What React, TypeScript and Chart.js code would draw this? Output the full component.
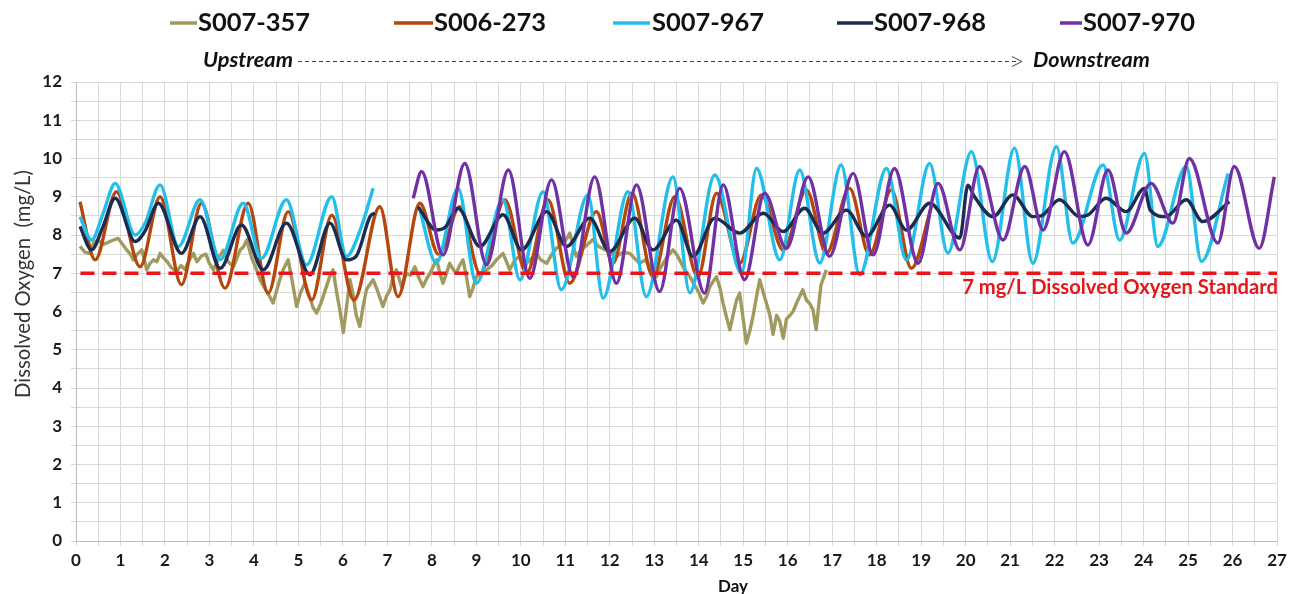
import { useEffect, useRef } from "react";
import { Chart, registerables } from "chart.js";

Chart.register(...registerables);

// Series names and colours (legend order)
const seriesNames = ["S007-357", "S006-273", "S007-967", "S007-968", "S007-970"];
const seriesColors = ["#A09A5E", "#B5460E", "#23BFEA", "#1A2C50", "#7131A5"];

// Axis ranges
const dayMin = 0;
const dayMax = 27;
const doMin = 0;
const doMax = 12;

// Dissolved-oxygen standard
const standardValue = 7;
const standardDays = [0.1, 27];
const standardLabel = "7 mg/L Dissolved Oxygen Standard";

// S007-357 (most upstream, noisy record)
const days357 = [
  0.09, 0.2, 0.3, 0.4, 0.5, 0.6, 0.69, 0.8, 0.95, 1.05, 1.14, 1.22, 1.29, 1.38, 1.48, 1.59, 1.66, 1.74, 1.82, 1.89,
  1.97, 2.05, 2.14, 2.26, 2.36, 2.45, 2.55, 2.64, 2.72, 2.82, 2.92, 3.0, 3.09, 3.2, 3.31, 3.42, 3.54, 3.62, 3.69, 3.77,
  3.84, 3.95, 4.06, 4.15, 4.25, 4.35, 4.43, 4.5, 4.58, 4.66, 4.77, 4.86, 4.96, 5.05, 5.15, 5.25, 5.33, 5.41, 5.5, 5.63,
  5.7, 5.78, 5.86, 5.93, 6.01, 6.08, 6.16, 6.22, 6.3, 6.38, 6.45, 6.53, 6.6, 6.68, 6.76, 6.9, 6.98, 7.06, 7.13, 7.2,
  7.32, 7.43, 7.52, 7.62, 7.7, 7.8, 7.88, 7.96, 8.04, 8.11, 8.18, 8.25, 8.33, 8.4, 8.48, 8.55, 8.62, 8.7, 8.78, 8.85,
  8.92, 9.0, 9.12, 9.23, 9.35, 9.45, 9.6, 9.68, 9.75, 9.87, 9.98, 10.05, 10.13, 10.25, 10.35, 10.45, 10.58, 10.7, 10.8, 10.95,
  11.03, 11.1, 11.18, 11.25, 11.35, 11.5, 11.62, 11.75, 11.92, 12.05, 12.15, 12.3, 12.45, 12.55, 12.67, 12.8, 12.95, 13.05, 13.12, 13.2,
  13.3, 13.42, 13.5, 13.57, 13.68, 13.8, 13.9, 14.0, 14.1, 14.18, 14.25, 14.33, 14.4, 14.48, 14.55, 14.62, 14.7, 14.77, 14.85, 14.92,
  15.0, 15.07, 15.15, 15.22, 15.3, 15.37, 15.45, 15.52, 15.6, 15.67, 15.75, 15.82, 15.9, 15.97, 16.05, 16.12, 16.2, 16.27, 16.34, 16.42,
  16.5, 16.57, 16.64, 16.7, 16.75, 16.79, 16.87,
];
const do357 = [
  7.7, 7.55, 7.52, 7.8, 7.87, 7.75, 7.79, 7.85, 7.91, 7.75, 7.61, 7.5, 7.35, 7.5, 7.61, 7.09, 7.25, 7.35, 7.3, 7.52,
  7.4, 7.3, 7.15, 7.04, 7.2, 7.1, 7.35, 7.52, 7.3, 7.45, 7.5, 7.25, 7.09, 7.4, 7.6, 7.3, 7.17, 7.4, 7.61, 7.7,
  7.87, 7.4, 7.09, 6.8, 6.6, 6.4, 6.22, 6.5, 6.83, 7.1, 7.35, 6.8, 6.13, 6.5, 6.75, 6.4, 6.1, 5.96, 6.2, 6.65,
  6.9, 7.09, 6.5, 6.05, 5.45, 6.1, 6.83, 6.5, 5.9, 5.61, 6.1, 6.57, 6.7, 6.83, 6.6, 6.13, 6.4, 6.57, 6.9, 7.09,
  6.65, 7.0, 6.95, 7.17, 6.9, 6.65, 6.85, 7.0, 7.2, 7.35, 7.0, 6.74, 7.0, 7.26, 7.1, 7.0, 7.2, 7.35, 6.9, 6.39,
  6.6, 6.91, 7.0, 7.09, 7.2, 7.35, 7.52, 7.3, 7.09, 7.35, 7.45, 7.2, 7.26, 7.4, 7.52, 7.35, 7.26, 7.5, 7.65, 7.79,
  7.9, 8.05, 7.7, 7.44, 7.6, 7.75, 7.88, 7.7, 7.6, 7.5, 7.44, 7.55, 7.52, 7.4, 7.26, 7.35, 7.1, 6.91, 7.1, 7.26,
  7.45, 7.61, 7.5, 7.35, 7.1, 6.91, 6.7, 6.5, 6.22, 6.4, 6.65, 6.8, 6.91, 6.6, 6.2, 5.87, 5.52, 5.9, 6.3, 6.48,
  5.8, 5.17, 5.5, 5.87, 6.4, 6.83, 6.5, 6.22, 5.9, 5.4, 5.9, 5.75, 5.3, 5.8, 5.9, 6.0, 6.22, 6.4, 6.57, 6.3,
  6.2, 6.04, 5.52, 6.2, 6.7, 6.83, 7.09,
];

// S006-273
const days273 = [
  0.09, 0.43, 0.91, 1.44, 1.89, 2.37, 2.82, 3.35, 3.87, 4.32, 4.77, 5.3, 5.75, 6.25, 6.83, 7.24, 7.73, 8.15, 8.63, 9.08,
  9.64, 10.13, 10.61, 11.1, 11.7, 12.07, 12.5, 12.97, 13.46, 13.98, 14.4, 14.92, 15.41, 15.9, 16.42, 16.87, 17.39, 17.84, 18.33, 18.78,
  19.23,
];
const do273 = [
  8.87, 7.35, 9.13, 7.17, 9.0, 6.7, 8.83, 6.61, 8.83, 6.48, 8.61, 6.3, 8.52, 6.3, 8.74, 6.39, 8.83, 7.5, 8.74, 7.0,
  8.92, 7.0, 8.92, 6.74, 8.61, 7.26, 9.1, 6.91, 9.0, 6.91, 9.09, 7.26, 9.05, 7.61, 9.18, 7.52, 9.22, 7.48, 9.18, 7.13,
  8.74,
];

// S007-967 (gap in record between day 6.7 and 7.7)
const days967 = [
  0.09, 0.35, 0.62, 0.88, 1.33, 1.55, 1.89, 2.3, 2.79, 3.24, 3.76, 4.17, 4.73, 5.18, 5.75, 6.08, 6.38, 6.68, 7.2, 7.72,
  8.1, 8.59, 9.0, 9.6, 9.98, 10.5, 10.91, 11.51, 11.85, 12.41, 12.82, 13.42, 13.8, 14.36, 14.96, 15.3, 15.82, 16.27, 16.72, 17.2,
  17.62, 18.22, 18.67, 19.19, 19.6, 20.13, 20.6, 21.1, 21.51, 22.04, 22.41, 23.09, 23.46, 24.02, 24.32, 24.96, 25.3, 25.9,
];
const do967 = [
  8.48, 7.87, 8.6, 9.35, 8.0, 8.3, 9.31, 7.7, 8.92, 7.35, 8.83, 7.39, 8.92, 7.22, 9.0, 7.44, 8.1, 9.22, null, 8.7,
  7.27, 9.22, 6.74, 8.92, 6.83, 9.13, 6.57, 9.05, 6.35, 9.13, 6.39, 9.52, 6.49, 9.57, 7.0, 9.74, 7.35, 9.7, 7.27, 9.83,
  6.96, 9.74, 7.35, 9.87, 7.53, 10.18, 7.3, 10.27, 7.26, 10.31, 7.79, 9.83, 7.87, 10.13, 7.7, 9.79, 7.31, 9.61,
];

// S007-968 (gap in record between day 6.7 and 7.7)
const days968 = [
  0.09, 0.35, 0.6, 0.88, 1.33, 1.55, 1.85, 2.37, 2.79, 3.24, 3.72, 4.21, 4.73, 5.26, 5.71, 6.08, 6.3, 6.61, 6.72, 7.2,
  7.69, 8.1, 8.3, 8.59, 9.08, 9.6, 10.02, 10.58, 11.03, 11.55, 12.0, 12.56, 12.97, 13.5, 13.87, 14.36, 14.92, 15.45, 15.9, 16.38,
  16.79, 17.32, 17.77, 18.29, 18.67, 19.19, 19.87, 20.05, 20.2, 20.62, 21.06, 21.51, 21.7, 22.11, 22.56, 22.75, 23.16, 23.61, 24.02, 24.15,
  24.5, 24.96, 25.33, 25.93,
];
const do968 = [
  8.22, 7.61, 8.2, 8.96, 7.83, 8.1, 8.83, 7.52, 8.48, 7.13, 8.26, 7.09, 8.31, 6.96, 8.31, 7.35, 7.45, 8.48, 8.57, null,
  8.74, 8.13, 8.2, 8.7, 7.7, 8.53, 7.61, 8.61, 7.7, 8.44, 7.57, 8.44, 7.61, 8.39, 7.44, 8.44, 8.05, 8.57, 8.09, 8.7,
  8.05, 8.65, 7.96, 8.78, 8.13, 8.83, 7.92, 9.3, 9.0, 8.48, 9.05, 8.48, 8.5, 8.92, 8.48, 8.52, 8.96, 8.61, 9.22, 8.65,
  8.48, 8.92, 8.35, 8.87,
];

// S007-970 (most downstream)
const days970 = [
  7.58, 7.77, 8.25, 8.74, 9.23, 9.72, 10.2, 10.69, 11.18, 11.66, 12.15, 12.6, 13.12, 13.57, 14.13, 14.55, 15.03, 15.48, 15.97, 16.46,
  16.94, 17.47, 17.92, 18.4, 18.93, 19.38, 19.87, 20.31, 20.84, 21.33, 21.74, 22.22, 22.75, 23.2, 23.61, 24.17, 24.66, 25.03, 25.67, 26.04,
  26.6, 26.94,
];
const do970 = [
  8.96, 9.66, 7.48, 9.87, 7.22, 9.7, 6.87, 9.44, 6.91, 9.52, 6.74, 9.31, 6.52, 9.22, 6.48, 9.31, 6.83, 9.09, 7.65, 9.52,
  7.44, 9.61, 7.48, 9.74, 7.26, 9.35, 7.61, 9.79, 7.87, 9.79, 8.13, 10.18, 7.74, 9.7, 8.05, 9.35, 8.31, 10.0, 7.79, 9.79,
  7.65, 9.52,
];

const seriesDays = [days357, days273, days967, days968, days970];
const seriesValues = [do357, do273, do967, do968, do970];

const FONT = "Lato, 'Open Sans', sans-serif";
const RED = "#E8161B";

function fitFont(ctx: CanvasRenderingContext2D, text: string, width: number, style: string) {
  ctx.font = `${style} 20px ${FONT}`;
  const w = ctx.measureText(text).width;
  const size = (20 * width) / w;
  ctx.font = `${style} ${size.toFixed(2)}px ${FONT}`;
}

// Legend, upstream/downstream arrow, standard label and axis titles
const overlayText = {
  id: "overlayText",
  afterDraw(chart: any) {
    const ctx: CanvasRenderingContext2D = chart.ctx;
    ctx.save();

    // legend
    const legendLines = [
      [170, 197, 198],
      [394, 433, 434],
      [613, 650, 652],
      [837, 873, 874],
      [1060, 1082, 1083],
    ];
    fitFont(ctx, seriesNames[0], 112, "bold");
    ctx.textBaseline = "middle";
    ctx.textAlign = "left";
    seriesNames.forEach((name, i) => {
      const [l0, l1, tx] = legendLines[i];
      ctx.strokeStyle = seriesColors[i];
      ctx.lineWidth = 3.5;
      ctx.setLineDash([]);
      ctx.beginPath();
      ctx.moveTo(l0, 23);
      ctx.lineTo(l1, 23);
      ctx.stroke();
      ctx.fillStyle = "#111";
      ctx.fillText(name, tx, 23);
    });

    // upstream -> downstream arrow
    ctx.fillStyle = "#111";
    fitFont(ctx, "Upstream", 90, "italic bold");
    ctx.fillText("Upstream", 203, 60);
    ctx.strokeStyle = "#444";
    ctx.lineWidth = 1;
    ctx.setLineDash([4, 3]);
    ctx.beginPath();
    ctx.moveTo(298, 61.5);
    ctx.lineTo(1018, 61.5);
    ctx.stroke();
    ctx.setLineDash([]);
    ctx.beginPath();
    ctx.moveTo(1012, 56.5);
    ctx.lineTo(1022, 61.5);
    ctx.lineTo(1012, 66.5);
    ctx.stroke();
    fitFont(ctx, "Downstream", 117, "italic bold");
    ctx.fillText("Downstream", 1033, 60);

    // standard label, just below the dashed line
    const yStd = chart.scales.y.getPixelForValue(standardValue);
    ctx.fillStyle = RED;
    fitFont(ctx, standardLabel, 316, "bold");
    ctx.textAlign = "right";
    ctx.fillText(standardLabel, 1278, yStd + 14);

    // y axis title
    ctx.fillStyle = "#333";
    fitFont(ctx, "Dissolved Oxygen  (mg/L)", 228, "normal");
    ctx.textAlign = "center";
    ctx.translate(23, 284);
    ctx.rotate(-Math.PI / 2);
    ctx.fillText("Dissolved Oxygen  (mg/L)", 0, 0);
    ctx.setTransform(1, 0, 0, 1, 0, 0);

    // x axis title
    ctx.fillStyle = "#111";
    fitFont(ctx, "Day", 30, "bold");
    ctx.fillText("Day", 733, 587);

    ctx.restore();
  },
};

const tickFont = { family: FONT, size: 17, weight: "bold" as const };

export default function App() {
  const canvasRef = useRef<HTMLCanvasElement | null>(null);

  useEffect(() => {
    if (!canvasRef.current) return;
    const drawOrder = [4, 3, 2, 1, 0];
    const datasets: any[] = seriesNames.map((name, i) => ({
      label: name,
      data: seriesDays[i].map((d, j) => ({ x: d, y: seriesValues[i][j] })),
      borderColor: seriesColors[i],
      backgroundColor: seriesColors[i],
      borderWidth: 3.4,
      pointRadius: 0,
      tension: i === 0 ? 0 : 0.4,
      cubicInterpolationMode: i === 0 ? "default" : "monotone",
      borderJoinStyle: "round",
      order: drawOrder[i],
      spanGaps: false,
    }));
    datasets.push({
      label: "standard",
      data: standardDays.map((d) => ({ x: d, y: standardValue })),
      borderColor: RED,
      borderWidth: 3.5,
      borderDash: [14, 8],
      pointRadius: 0,
      order: -1,
    });

    const chart = new Chart(canvasRef.current, {
      type: "line",
      data: { datasets },
      options: {
        animation: false,
        responsive: false,
        devicePixelRatio: 1,
        layout: { padding: { left: 0, right: 22, top: 82, bottom: 0 } },
        plugins: { legend: { display: false }, tooltip: { enabled: false } },
        scales: {
          x: {
            type: "linear",
            min: dayMin,
            max: dayMax,
            afterFit: (s: any) => {
              s.height = 53;
            },
            ticks: {
              stepSize: 0.5,
              autoSkip: false,
              maxRotation: 0,
              padding: 4,
              color: "#1a1a1a",
              font: tickFont,
              callback: (v: any) => (Number.isInteger(v) ? String(v) : ""),
            },
            grid: { color: "#d9d9d9", lineWidth: 1, tickLength: 5 },
            border: { color: "#bdbdbd" },
          },
          y: {
            type: "linear",
            min: doMin,
            max: doMax,
            afterFit: (s: any) => {
              s.width = 76;
            },
            ticks: {
              stepSize: 0.5,
              autoSkip: false,
              padding: 9,
              color: "#1a1a1a",
              font: tickFont,
              callback: (v: any) => (Number.isInteger(v) ? String(v) : ""),
            },
            grid: { color: "#d9d9d9", lineWidth: 1, tickLength: 5 },
            border: { color: "#bdbdbd" },
          },
        },
      },
      plugins: [overlayText],
    });
    return () => chart.destroy();
  }, []);

  return (
    <div style={{ position: "fixed", left: 0, top: 0, width: 1299, height: 594, background: "#fff" }}>
      <canvas ref={canvasRef} width={1299} height={594} style={{ display: "block" }} />
    </div>
  );
}
